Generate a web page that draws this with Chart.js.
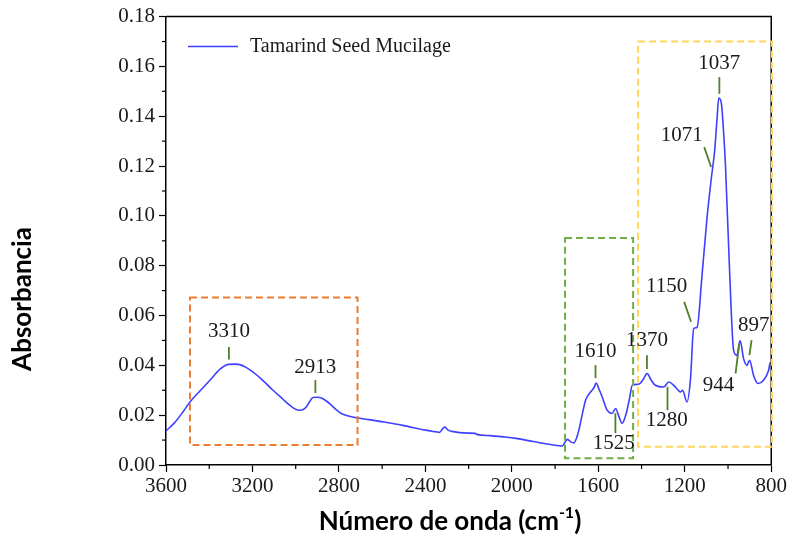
<!DOCTYPE html>
<html><head><meta charset="utf-8">
<script src="https://cdn.jsdelivr.net/npm/chart.js@4"></script>
<style>html,body{margin:0;padding:0;background:#fff}#wrap{width:789px;height:540px;position:relative}</style>
</head><body><div id="wrap"><canvas id="c"></canvas></div>
<script>
// ---- data ----
const seriesName = 'Tamarind Seed Mucilage';
const wavenumbers = [3600,3560,3520,3489,3440,3397,3350,3312,3280,3258,3230,3197,3150,3105,3060,3028,2985,2965,2951,2935,2920,2900,2881,2860,2835,2810,2789,2760,2720,2660,2597,2500,2400,2350,2335,2320,2310,2295,2270,2243,2200,2170,2159,2100,2040,1982,1900,1828,1780,1767,1755,1743,1728,1713,1700,1690,1675,1659,1636,1620,1610,1597,1582,1559,1536,1520,1505,1490,1471,1455,1443,1413,1395,1374,1355,1336,1297,1274,1251,1230,1220,1210,1190,1174,1159,1143,1121,1097,1077,1062,1050,1043,1031,1020,1012,994,974,959,944,928,913,900,882,870,859,836,812,805,800];
const absorbance = [0.0137,0.0170,0.0215,0.0253,0.0300,0.0340,0.0385,0.0404,0.0405,0.0403,0.0392,0.0373,0.0338,0.0300,0.0265,0.0240,0.0220,0.0223,0.0233,0.0255,0.0271,0.0272,0.0269,0.0258,0.0240,0.0220,0.0207,0.0198,0.0190,0.0182,0.0173,0.0158,0.0140,0.0133,0.0131,0.0146,0.0152,0.0140,0.0134,0.0130,0.0128,0.0127,0.0122,0.0118,0.0113,0.0107,0.0094,0.0083,0.0077,0.0076,0.0090,0.0103,0.0093,0.0089,0.0110,0.0140,0.0200,0.0260,0.0293,0.0310,0.0329,0.0305,0.0273,0.0220,0.0207,0.0227,0.0195,0.0167,0.0207,0.0270,0.0320,0.0324,0.0340,0.0367,0.0340,0.0320,0.0313,0.0333,0.0320,0.0300,0.0293,0.0300,0.0253,0.0340,0.0547,0.0553,0.0753,0.0993,0.1153,0.1260,0.1400,0.1473,0.1453,0.1330,0.1207,0.0807,0.0460,0.0440,0.0500,0.0427,0.0400,0.0420,0.0360,0.0335,0.0327,0.0340,0.0380,0.0410,0.0410];
const xTickLabels = [3600,3200,2800,2400,2000,1600,1200,800];
const yTickLabels = [0.00,0.02,0.04,0.06,0.08,0.10,0.12,0.14,0.16,0.18];
const peakNames = ['3310','2913','1610','1525','1370','1280','1150','1071','1037','897','944'];

// annotation placement (data coordinates): text anchor and leader line ends
const peakMarks = [
  {t:'3310', tx:3309, ty:0.0535, x1:3309, y1:0.0474, x2:3309, y2:0.0424},
  {t:'2913', tx:2909, ty:0.0393, x1:2909, y1:0.0341, x2:2909, y2:0.0289},
  {t:'1610', tx:1613, ty:0.0454, x1:1613, y1:0.0401, x2:1613, y2:0.0349},
  {t:'1525', tx:1529, ty:0.0088, x1:1521, y1:0.0208, x2:1521, y2:0.0128},
  {t:'1370', tx:1375, ty:0.0501, x1:1375, y1:0.0441, x2:1375, y2:0.0385},
  {t:'1280', tx:1283, ty:0.0180, x1:1280, y1:0.0314, x2:1280, y2:0.0220},
  {t:'1150', tx:1284, ty:0.0715, x1:1203, y1:0.0655, x2:1171, y2:0.0575},
  {t:'1071', tx:1214, ty:0.1323, x1:1110, y1:0.1276, x2:1078, y2:0.1196},
  {t:'1037', tx:1040, ty:0.1610, x1:1040, y1:0.1557, x2:1040, y2:0.1490},
  {t:'897',  tx:881,  ty:0.0561, x1:891,  y1:0.0501, x2:901,  y2:0.0441},
  {t:'944',  tx:1044, ty:0.0321, x1:965,  y1:0.0368, x2:948,  y2:0.0488}
];
const regionBoxes = [
  {x1:3489, x2:2714, y1:0.0672, y2:0.0080, color:'#ED7D31'},
  {x1:1754, x2:1439, y1:0.0911, y2:0.0027, color:'#70AD47'},
  {x1:1416, x2:797,  y1:0.1700, y2:0.0073, color:'#FFD55C'}
];

const points = wavenumbers.map((w,i)=>({x:w, y:absorbance[i]}));
const LINE = '#3f3fff';
const SERIF = '"Liberation Serif", "Times New Roman", serif';
const SANS = 'Lato, "Open Sans", sans-serif';

const decor = {
  id:'decor',
  afterDraw(chart){
    const {ctx, chartArea:a, scales:{x, y}} = chart;
    ctx.save();
    // frame top/right
    ctx.strokeStyle='#000'; ctx.lineWidth=1.5;
    ctx.beginPath(); ctx.moveTo(a.left,a.top); ctx.lineTo(a.right,a.top); ctx.lineTo(a.right,a.bottom); ctx.stroke();
    // minor ticks
    ctx.lineWidth=1.2;
    for(let v=1000; v<3600; v+=400){ const px=x.getPixelForValue(v); ctx.beginPath(); ctx.moveTo(px,a.bottom); ctx.lineTo(px,a.bottom+4); ctx.stroke(); }
    for(let k=1; k<18; k+=2){ const py=y.getPixelForValue(k/100); ctx.beginPath(); ctx.moveTo(a.left,py); ctx.lineTo(a.left-4,py); ctx.stroke(); }
    // dashed region boxes
    ctx.lineWidth=2; ctx.setLineDash([7,4]);
    regionBoxes.forEach(b=>{
      ctx.strokeStyle=b.color;
      const l=x.getPixelForValue(b.x1), r=x.getPixelForValue(b.x2), t=y.getPixelForValue(b.y1), bt=y.getPixelForValue(b.y2);
      ctx.strokeRect(l,t,r-l,bt-t);
    });
    ctx.setLineDash([]);
    // peak marks
    ctx.font = '21px '+SERIF; ctx.textAlign='center'; ctx.textBaseline='middle';
    peakMarks.forEach(p=>{
      ctx.strokeStyle='#4f7f2f'; ctx.lineWidth=1.8;
      ctx.beginPath(); ctx.moveTo(x.getPixelForValue(p.x1), y.getPixelForValue(p.y1)); ctx.lineTo(x.getPixelForValue(p.x2), y.getPixelForValue(p.y2)); ctx.stroke();
      ctx.fillStyle='#1a1a1a';
      ctx.fillText(p.t, x.getPixelForValue(p.tx), y.getPixelForValue(p.ty));
    });
    // legend
    const ly = a.top+30;
    ctx.strokeStyle=LINE; ctx.lineWidth=1.5;
    ctx.beginPath(); ctx.moveTo(a.left+22, ly); ctx.lineTo(a.left+72, ly); ctx.stroke();
    ctx.fillStyle='#1a1a1a'; ctx.textAlign='left'; ctx.font='20px '+SERIF;
    ctx.fillText(seriesName, a.left+84, ly);
    // axis titles
    ctx.fillStyle='#000';
    ctx.font='bold 26px '+SANS;
    ctx.save(); ctx.translate(23, 299); ctx.rotate(-Math.PI/2); ctx.textAlign='center'; ctx.fillText('Absorbancia',0,0); ctx.restore();
    const main='Número de onda (cm', sup='-1', end=')';
    ctx.font='bold 26px '+SANS; const w1=ctx.measureText(main).width, w3=ctx.measureText(end).width;
    ctx.font='bold 16px '+SANS; const w2=ctx.measureText(sup).width;
    let sx = 450 - (w1+w2+w3)/2; const by=522;
    ctx.textAlign='left';
    ctx.font='bold 26px '+SANS; ctx.fillText(main,sx,by); sx+=w1;
    ctx.font='bold 16px '+SANS; ctx.fillText(sup,sx,by-9); sx+=w2;
    ctx.font='bold 26px '+SANS; ctx.fillText(end,sx,by);
    ctx.restore();
  }
};

new Chart(document.getElementById('c'), {
  type:'line',
  data:{ datasets:[{ label:seriesName, data:points, borderColor:LINE, borderWidth:1.6, pointRadius:0, tension:0, cubicInterpolationMode:'monotone', fill:false }]},
  options:{
    responsive:true, maintainAspectRatio:false, animation:false, devicePixelRatio:1,
    layout:{padding:{top:16,right:16,left:0,bottom:0}},
    plugins:{legend:{display:false}, tooltip:{enabled:false}},
    scales:{
      x:{ type:'linear', reverse:true, min:800, max:3600,
          afterBuildTicks:s=>{ s.ticks = xTickLabels.map(v=>({value:v})); },
          ticks:{ font:{family:SERIF,size:21}, color:'#1a1a1a', maxRotation:0, autoSkip:false, padding:2, callback:v=>String(v) },
          grid:{ drawOnChartArea:false, tickLength:7, color:'#000', tickWidth:1.2 },
          border:{ color:'#000', width:1.5 },
          afterFit:s=>{ s.height=75; } },
      y:{ min:0, max:0.18,
          afterBuildTicks:s=>{ s.ticks = yTickLabels.map(v=>({value:v})); },
          ticks:{ font:{family:SERIF,size:21}, color:'#1a1a1a', padding:4, callback:v=>Number(v).toFixed(2) },
          grid:{ drawOnChartArea:false, tickLength:7, color:'#000', tickWidth:1.2 },
          border:{ color:'#000', width:1.5 },
          afterFit:s=>{ s.width=166; } }
    }
  },
  plugins:[decor]
});
</script>
</body></html>
